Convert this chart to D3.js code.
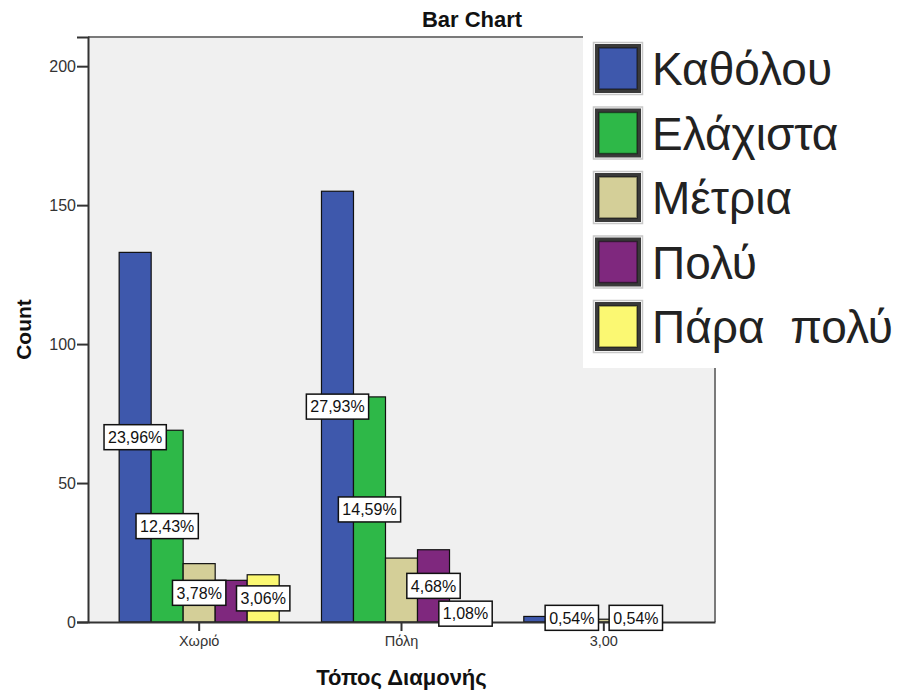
<!DOCTYPE html>
<html>
<head>
<meta charset="utf-8">
<script src="https://cdn.jsdelivr.net/npm/d3@7"></script>
<style>
  html, body { margin: 0; padding: 0; background: #fff; }
  svg { display: block; font-family: Arial, "Liberation Sans", sans-serif; }
</style>
</head>
<body>
<svg id="chart" width="910" height="690"></svg>
<script>
// ---- data ----
const categories = ["Χωριό", "Πόλη", "3,00"];
const seriesNames = ["Καθόλου", "Ελάχιστα", "Μέτρια", "Πολύ", "Πάρα  πολύ"];
const seriesColors = ["#3e58ac", "#2eb848", "#d4cf98", "#7f287e", "#fbf872"];
const countsNone     = [133, 155, 2];
const countsMinimal  = [69, 81, 3];
const countsModerate = [21, 23, 1];
const countsMuch     = [15, 26, 3];
const countsVeryMuch = [17, 6, 0];
const labelsNone     = ["23,96%", "27,93%", null];
const labelsMinimal  = ["12,43%", "14,59%", "0,54%"];
const labelsModerate = ["3,78%", null, null];
const labelsMuch     = [null, "4,68%", "0,54%"];
const labelsVeryMuch = ["3,06%", "1,08%", null];
const yTicks = [0, 50, 100, 150, 200];

const allCounts = [countsNone, countsMinimal, countsModerate, countsMuch, countsVeryMuch];
const allLabels = [labelsNone, labelsMinimal, labelsModerate, labelsMuch, labelsVeryMuch];

const rows = [];
categories.forEach((c, ci) => {
  seriesNames.forEach((s, si) => {
    rows.push({cat: c, ser: s, si: si, value: allCounts[si][ci], label: allLabels[si][ci]});
  });
});

// ---- layout ----
const svg = d3.select("#chart");
const plot = {left: 88, right: 715, top: 37, bottom: 622};

const x0 = d3.scaleBand().domain(categories)
  .range([plot.left, plot.right]).paddingInner(0.209).paddingOuter(0.154);
const x1 = d3.scaleBand().domain(seriesNames).range([0, x0.bandwidth()]);
const y = d3.scaleLinear().domain([0, 210.5]).range([plot.bottom, plot.top]);
const color = d3.scaleOrdinal().domain(seriesNames).range(seriesColors);

// plot background
svg.append("rect")
  .attr("x", plot.left).attr("y", plot.top)
  .attr("width", plot.right - plot.left).attr("height", plot.bottom - plot.top)
  .attr("fill", "#f0f0f0");
// top & right frame
svg.append("path")
  .attr("d", `M${plot.left},${plot.top}H${plot.right}V${plot.bottom}`)
  .attr("fill", "none").attr("stroke", "#7a7a7a").attr("stroke-width", 2);

// bars
svg.append("g").selectAll("rect").data(rows).join("rect")
  .attr("x", d => x0(d.cat) + x1(d.ser))
  .attr("y", d => y(d.value))
  .attr("width", x1.bandwidth())
  .attr("height", d => y(0) - y(d.value))
  .attr("fill", d => color(d.ser))
  .attr("stroke", "#111")
  .attr("stroke-width", d => d.value > 0 ? 1.2 : 0);

// axes
const yAxis = d3.axisLeft(y).tickValues(yTicks).tickSize(11).tickPadding(1).tickFormat(d3.format("d"));
const gy = svg.append("g").attr("transform", `translate(${plot.left},0)`).call(yAxis);
gy.select(".domain").attr("stroke", "#333").attr("stroke-width", 2);
gy.selectAll(".tick line").attr("stroke", "#333").attr("stroke-width", 2);
gy.selectAll(".tick text").attr("font-size", 16).attr("fill", "#333")
  .attr("font-family", "Arial, 'Liberation Sans', sans-serif");

const xAxis = d3.axisBottom(x0).tickSize(9).tickPadding(5).tickSizeOuter(0);
const gx = svg.append("g").attr("transform", `translate(0,${plot.bottom})`).call(xAxis);
gx.select(".domain").attr("stroke", "#333").attr("stroke-width", 2);
gx.selectAll(".tick line").attr("stroke", "#333").attr("stroke-width", 2);
gx.selectAll(".tick text").attr("font-size", 14.5).attr("fill", "#333")
  .attr("font-family", "Arial, 'Liberation Sans', sans-serif");

// value labels (at bar middle)
const labelRows = [];
categories.forEach((c, ci) => seriesNames.forEach((s, si) => {
  const lab = allLabels[si][ci];
  if (lab) labelRows.push({cat: c, ser: s, value: allCounts[si][ci], label: lab});
}));
const lg = svg.append("g");
labelRows.forEach(d => {
  const cx = x0(d.cat) + x1(d.ser) + x1.bandwidth() / 2;
  const cy = (y(d.value) + y(0)) / 2;
  const g = lg.append("g");
  const r = g.append("rect").attr("fill", "#fff").attr("stroke", "#111").attr("stroke-width", 1.5);
  const t = g.append("text").attr("x", cx).attr("y", cy).attr("text-anchor", "middle")
    .attr("dy", "0.36em").attr("font-size", 16).attr("fill", "#111").text(d.label);
  const w = t.node().getComputedTextLength() + 8;
  r.attr("x", cx - w / 2).attr("y", cy - 12.5).attr("width", w).attr("height", 25);
});

// titles
svg.append("text").attr("x", 472).attr("y", 27).attr("text-anchor", "middle")
  .attr("font-size", 22).attr("font-weight", "bold").attr("fill", "#111").text("Bar Chart");
svg.append("text").attr("transform", `translate(31,${(plot.top + plot.bottom) / 2}) rotate(-90)`)
  .attr("text-anchor", "middle").attr("font-size", 21).attr("font-weight", "bold")
  .attr("fill", "#111").text("Count");
svg.append("text").attr("x", (plot.left + plot.right) / 2).attr("y", 685).attr("text-anchor", "middle")
  .attr("font-size", 22).attr("font-weight", "bold").attr("fill", "#111").text("Τόπος Διαμονής");

// legend
const leg = svg.append("g");
leg.append("rect").attr("x", 583).attr("y", 30).attr("width", 327).attr("height", 338).attr("fill", "#fff");
const step = 64.5;
seriesNames.forEach((s, i) => {
  const top = 42 + i * step;
  leg.append("rect").attr("x", 593.5).attr("y", top + 0.5).attr("width", 49).attr("height", 52)
    .attr("fill", "none").attr("stroke", "#c8c8c8").attr("stroke-width", 1.5);
  leg.append("rect").attr("x", 597).attr("y", top + 4).attr("width", 42).attr("height", 45)
    .attr("fill", color(s)).attr("stroke", "#3a3a3a").attr("stroke-width", 4);
  leg.append("rect").attr("x", 599).attr("y", top + 6).attr("width", 38).attr("height", 41)
    .attr("fill", "none").attr("stroke", "#000").attr("stroke-opacity", 0.45).attr("stroke-width", 1.5);
  leg.append("text").attr("x", 652).attr("y", top + 43)
    .attr("font-size", 46).attr("fill", "#222")
    .style("white-space", "pre").attr("xml:space", "preserve").text(s);
});
</script>
</body>
</html>
